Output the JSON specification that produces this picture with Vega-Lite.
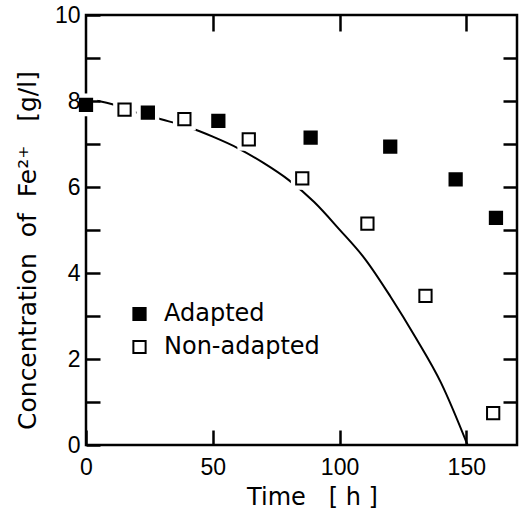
{
  "$schema": "https://vega.github.io/schema/vega-lite/v6.json",
  "width": 431,
  "height": 430,
  "autosize": {"type": "none"},
  "padding": {"left": 86, "top": 15, "right": 7, "bottom": 70},
  "background": "white",
  "config": {
    "view": {"stroke": "black", "strokeWidth": 2.5},
    "axis": {"grid": false, "domain": false, "ticks": true, "tickOpacity": 1, "tickColor": "black", "tickWidth": 2.5, "labelColor": "black", "titleColor": "black", "labelFont": "Liberation Sans", "labelFontSize": 23, "titleFont": "DejaVu Sans", "titleFontSize": 24, "titleFontWeight": "normal"}
  },
  "datasets": {
    "curve": [
      {"t": 0, "c": 8.05}, {"t": 10, "c": 7.93}, {"t": 20, "c": 7.73}, {"t": 30, "c": 7.57},
      {"t": 40, "c": 7.40}, {"t": 50, "c": 7.17}, {"t": 60, "c": 6.90}, {"t": 70, "c": 6.56},
      {"t": 80, "c": 6.16}, {"t": 90, "c": 5.65}, {"t": 100, "c": 5.01}, {"t": 110, "c": 4.33},
      {"t": 120, "c": 3.46}, {"t": 130, "c": 2.50}, {"t": 140, "c": 1.45}, {"t": 150.5, "c": 0}
    ],
    "points": [
      {"t": 0, "c": 7.91, "group": "Adapted"},
      {"t": 24.4, "c": 7.73, "group": "Adapted"},
      {"t": 52.2, "c": 7.54, "group": "Adapted"},
      {"t": 88.6, "c": 7.15, "group": "Adapted"},
      {"t": 120, "c": 6.94, "group": "Adapted"},
      {"t": 145.8, "c": 6.18, "group": "Adapted"},
      {"t": 161.7, "c": 5.28, "group": "Adapted"},
      {"t": 15.2, "c": 7.80, "group": "Non-adapted"},
      {"t": 38.8, "c": 7.58, "group": "Non-adapted"},
      {"t": 64.2, "c": 7.11, "group": "Non-adapted"},
      {"t": 85.3, "c": 6.20, "group": "Non-adapted"},
      {"t": 111, "c": 5.15, "group": "Non-adapted"},
      {"t": 133.9, "c": 3.47, "group": "Non-adapted"},
      {"t": 160.6, "c": 0.74, "group": "Non-adapted"}
    ]
  },
  "resolve": {"axis": {"x": "independent", "y": "independent"}},
  "layer": [
    {
      "data": {"name": "curve"},
      "mark": {"type": "line", "color": "black", "strokeWidth": 2, "interpolate": "monotone", "clip": true},
      "encoding": {
        "x": {"field": "t", "type": "quantitative", "scale": {"domain": [0, 170], "nice": false},
          "axis": {"orient": "bottom", "values": [0, 50, 100, 150], "offset": -15, "ticks": true, "tickSize": 15, "tickColor": "black", "labelPadding": 11, "labelFlush": false, "zindex": 1,
            "title": "Time\u00a0\u00a0\u00a0[\u00a0h\u00a0]", "titleX": 226, "titleY": 67, "titleBaseline": "middle", "titleAlign": "center", "titleAnchor": null}},
        "y": {"field": "c", "type": "quantitative", "scale": {"domain": [0, 10], "nice": false},
          "axis": {"orient": "left", "values": [0, 1, 2, 3, 4, 5, 6, 7, 8, 9, 10], "offset": -14, "ticks": true, "tickSize": 14, "tickColor": "black", "labelPadding": 6, "labelFlush": false, "zindex": 1,
            "labelExpr": "datum.value % 2 == 0 ? datum.label : ''",
            "title": "Concentration\u00a0\u00a0of\u00a0\u00a0Fe²⁺\u00a0\u00a0\u00a0[g/l]", "titleFontSize": 25, "titleX": -73, "titleY": 235, "titleBaseline": "middle", "titleAlign": "center", "titleAngle": -90, "titleAnchor": null}}
      }
    },
    {
      "data": {"name": "points"},
      "mark": {"type": "square", "color": "white", "size": 520, "opacity": 1},
      "encoding": {
        "x": {"field": "t", "type": "quantitative",
          "axis": {"orient": "top", "values": [50, 100, 150], "offset": -16, "ticks": true, "tickSize": 16, "tickColor": "black", "labels": false, "title": null, "zindex": 1}},
        "y": {"field": "c", "type": "quantitative",
          "axis": {"orient": "right", "values": [1, 2, 3, 4, 5, 6, 7, 8, 9], "offset": -14, "ticks": true, "tickSize": 14, "tickColor": "black", "labels": false, "title": null, "zindex": 1}}
      }
    },
    {
      "data": {"name": "points"},
      "mark": {"type": "square", "size": 150, "stroke": "black", "strokeWidth": 2, "opacity": 1},
      "encoding": {
        "x": {"field": "t", "type": "quantitative", "axis": null},
        "y": {"field": "c", "type": "quantitative", "axis": null},
        "fill": {"field": "group", "type": "nominal",
          "scale": {"domain": ["Adapted", "Non-adapted"], "range": ["black", "white"]},
          "legend": {"orient": "none", "legendX": 41.5, "legendY": 287, "title": null, "padding": 0,
            "symbolType": "square", "symbolSize": 150, "symbolStrokeColor": "black", "symbolStrokeWidth": 2,
            "labelFont": "DejaVu Sans", "labelFontSize": 24, "labelColor": "black", "labelOffset": 12.5, "rowPadding": 9}}
      }
    }
  ]
}
